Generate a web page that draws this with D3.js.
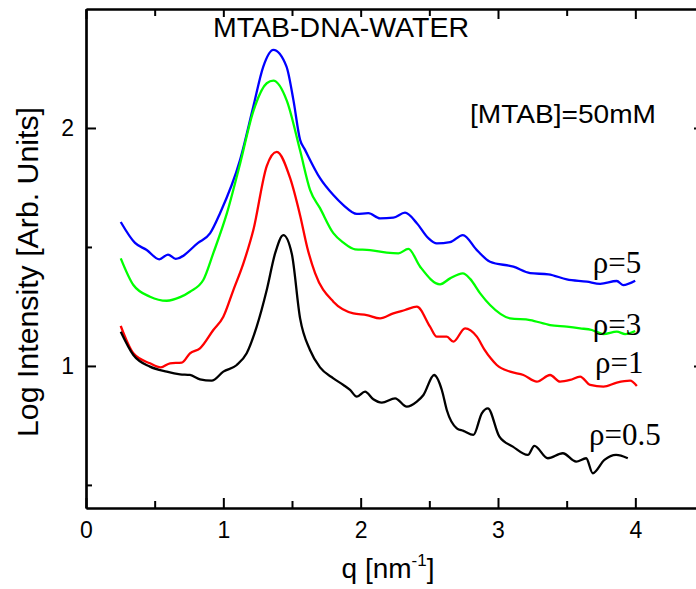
<!DOCTYPE html>
<html>
<head>
<meta charset="utf-8">
<script src="https://cdn.jsdelivr.net/npm/d3@7"></script>
<style>
  body { margin: 0; background: #fff; }
  svg { display: block; }
</style>
</head>
<body>
<svg width="696" height="589"></svg>
<script>
// values (q in nm^-1, log intensity)
var qBlue = [0.253,0.357,0.442,0.534,0.597,0.653,0.816,0.903,0.976,1.122,1.218,1.291,1.364,1.46,1.51,1.559,1.595,1.704,1.801,1.874,1.972,2.056,2.141,2.238,2.323,2.409,2.493,2.554,2.651,2.744,2.846,2.942,3.112,3.234,3.367,3.501,3.647,3.744,3.865,3.911,3.999];
var iBlue = [1.605,1.517,1.487,1.448,1.468,1.450,1.517,1.557,1.642,1.866,2.089,2.258,2.328,2.258,2.118,1.95,1.908,1.789,1.718,1.676,1.639,1.642,1.62,1.623,1.644,1.60,1.537,1.515,1.52,1.55,1.487,1.438,1.417,1.39,1.385,1.364,1.354,1.345,1.357,1.34,1.358];

var qGreen = [0.253,0.345,0.466,0.588,0.685,0.757,0.854,0.927,1.025,1.122,1.218,1.316,1.364,1.462,1.559,1.632,1.704,1.801,1.874,1.959,2.068,2.190,2.275,2.347,2.433,2.578,2.651,2.744,2.797,2.870,2.942,3.088,3.234,3.379,3.501,3.598,3.683,3.768,3.865,3.926,3.999];
var iGreen = [1.452,1.34,1.291,1.274,1.289,1.312,1.361,1.474,1.64,1.85,2.07,2.188,2.199,2.115,1.905,1.739,1.663,1.558,1.518,1.49,1.487,1.476,1.473,1.492,1.417,1.343,1.368,1.389,1.366,1.305,1.256,1.20,1.193,1.172,1.165,1.158,1.151,1.134,1.144,1.134,1.147];

var qRed = [0.253,0.345,0.466,0.544,0.612,0.697,0.757,0.830,0.927,1.0,1.073,1.146,1.218,1.316,1.389,1.486,1.56,1.61,1.668,1.801,1.947,2.044,2.141,2.238,2.323,2.409,2.505,2.554,2.627,2.675,2.760,2.846,2.90,2.95,2.991,3.088,3.185,3.283,3.379,3.452,3.525,3.598,3.671,3.768,3.865,3.962,4.011];
var iRed = [1.168,1.053,1.011,0.994,1.011,1.014,1.053,1.074,1.151,1.207,1.319,1.431,1.57,1.84,1.90,1.79,1.63,1.50,1.39,1.27,1.221,1.214,1.20,1.221,1.235,1.249,1.165,1.123,1.123,1.102,1.158,1.123,1.07,1.03,1.004,0.976,0.962,0.934,0.962,0.934,0.941,0.955,0.92,0.913,0.93,0.938,0.916];

var qBlack = [0.253,0.345,0.466,0.588,0.685,0.757,0.830,0.915,1.0,1.098,1.170,1.243,1.316,1.377,1.437,1.498,1.559,1.631,1.704,1.801,1.874,1.923,1.972,2.032,2.092,2.154,2.251,2.336,2.409,2.457,2.535,2.591,2.627,2.700,2.748,2.821,2.882,2.926,3.010,3.108,3.217,3.265,3.363,3.472,3.569,3.642,3.690,3.775,3.860,3.945];
var iBlack = [1.144,1.046,0.997,0.976,0.965,0.962,0.944,0.938,0.976,1.004,1.053,1.165,1.319,1.473,1.55,1.473,1.2,1.067,0.994,0.948,0.92,0.899,0.871,0.892,0.86,0.846,0.864,0.829,0.85,0.878,0.962,0.899,0.815,0.738,0.727,0.71,0.801,0.822,0.703,0.661,0.626,0.664,0.612,0.633,0.598,0.612,0.549,0.605,0.626,0.612];

var seriesNames = ["ρ=5", "ρ=3", "ρ=1", "ρ=0.5"];
var seriesColors = ["#0000ff", "#00ff00", "#ff0000", "#000000"];
var labelQ = [3.69, 3.69, 3.706, 3.663];
var labelI = [1.391, 1.130, 0.969, 0.668];

var xTicks = [0, 1, 2, 3, 4];
var xMinor = [0.5, 1.5, 2.5, 3.5];
var yTicks = [1, 2];
var yMinor = [0.5, 1.5];

var svg = d3.select("svg");

var x = d3.scaleLinear().domain([0, 4.5]).range([86, 704]);
var y = d3.scaleLinear().domain([0.403, 2.5]).range([508, 9]);

var zip = function(qs, is) {
  return qs.map(function(q, i) { return [q, is[i]]; });
};
var series = [zip(qBlue, iBlue), zip(qGreen, iGreen), zip(qRed, iRed), zip(qBlack, iBlack)];

var line = d3.line()
  .x(function(d) { return x(d[0]); })
  .y(function(d) { return y(d[1]); })
  .curve(d3.curveMonotoneX);

svg.selectAll(".curve")
  .data(series).enter()
  .append("path")
  .attr("class", "curve")
  .attr("d", line)
  .attr("fill", "none")
  .attr("stroke", function(d, i) { return seriesColors[i]; })
  .attr("stroke-width", 2.3)
  .attr("stroke-linejoin", "round");

// frame axes, ticks point inwards
var axisStyle = function(g) {
  g.select(".domain").attr("stroke-width", 2.2);
  g.selectAll(".tick line").attr("stroke-width", 2);
};
var noLabel = function() { return ""; };

svg.append("g").attr("transform", "translate(0,508)")
  .call(d3.axisBottom(x).tickValues(xTicks).tickSize(-10).tickSizeOuter(0).tickPadding(14).tickFormat(d3.format("d")))
  .call(axisStyle)
  .selectAll("text").attr("font-size", 23).attr("font-family", "Liberation Sans, Arial, sans-serif").attr("fill", "#000");
svg.append("g").attr("transform", "translate(0,508)")
  .call(d3.axisBottom(x).tickValues(xMinor).tickSize(-7).tickSizeOuter(0).tickFormat(noLabel))
  .call(axisStyle);

svg.append("g").attr("transform", "translate(0,9)")
  .call(d3.axisTop(x).tickValues(xTicks).tickSize(-10).tickSizeOuter(0).tickFormat(noLabel))
  .call(axisStyle);
svg.append("g").attr("transform", "translate(0,9)")
  .call(d3.axisTop(x).tickValues(xMinor).tickSize(-7).tickSizeOuter(0).tickFormat(noLabel))
  .call(axisStyle);

svg.append("g").attr("transform", "translate(86,0)")
  .call(d3.axisLeft(y).tickValues(yTicks).tickSize(-10).tickSizeOuter(0).tickPadding(12).tickFormat(d3.format("d")))
  .call(axisStyle)
  .selectAll("text").attr("font-size", 23).attr("font-family", "Liberation Sans, Arial, sans-serif").attr("fill", "#000");
svg.append("g").attr("transform", "translate(86,0)")
  .call(d3.axisLeft(y).tickValues(yMinor).tickSize(-6).tickSizeOuter(0).tickFormat(noLabel))
  .call(axisStyle);

svg.append("g").attr("transform", "translate(704,0)")
  .call(d3.axisRight(y).tickValues(yTicks).tickSize(-10).tickSizeOuter(0).tickFormat(noLabel))
  .call(axisStyle);

// title sits on a white box that hides the long top ticks
svg.append("rect")
  .attr("x", 210).attr("y", 17).attr("width", 262).attr("height", 24)
  .attr("fill", "#fff");
svg.append("text")
  .attr("x", 341).attr("y", 37)
  .attr("text-anchor", "middle")
  .attr("font-family", "Liberation Sans, Arial, sans-serif")
  .attr("font-size", 27)
  .attr("textLength", 256).attr("lengthAdjust", "spacingAndGlyphs")
  .text("MTAB-DNA-WATER");

svg.append("text")
  .attr("x", 470).attr("y", 123)
  .attr("font-family", "Liberation Sans, Arial, sans-serif")
  .attr("font-size", 26)
  .attr("textLength", 186).attr("lengthAdjust", "spacingAndGlyphs")
  .text("[MTAB]=50mM");

svg.selectAll(".rho")
  .data(seriesNames).enter()
  .append("text")
  .attr("class", "rho")
  .attr("x", function(d, i) { return x(labelQ[i]); })
  .attr("y", function(d, i) { return y(labelI[i]); })
  .attr("font-family", "Liberation Serif, Times New Roman, serif")
  .attr("font-size", 31)
  .text(function(d) { return d; });

svg.append("text")
  .attr("transform", "translate(38,272) rotate(-90)")
  .attr("text-anchor", "middle")
  .attr("font-family", "Liberation Sans, Arial, sans-serif")
  .attr("font-size", 30)
  .attr("textLength", 330).attr("lengthAdjust", "spacingAndGlyphs")
  .text("Log Intensity [Arb. Units]");

var xLabel = svg.append("text")
  .attr("x", 388).attr("y", 578)
  .attr("text-anchor", "middle")
  .attr("font-family", "Liberation Sans, Arial, sans-serif")
  .attr("font-size", 28);
xLabel.append("tspan").text("q [nm");
xLabel.append("tspan").attr("font-size", 17).attr("dy", -12).text("-1");
xLabel.append("tspan").attr("dy", 12).text("]");
</script>
</body>
</html>
